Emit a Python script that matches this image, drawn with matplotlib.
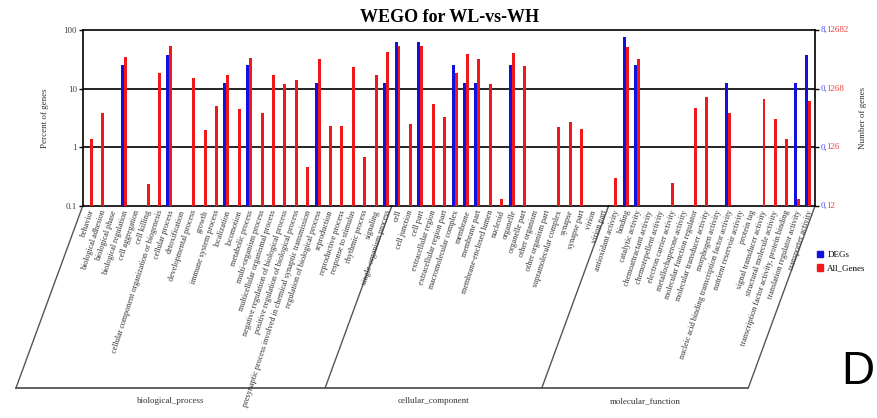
import matplotlib
matplotlib.use('Agg')
import matplotlib.pyplot as plt
from matplotlib.patches import Patch
from matplotlib.ticker import NullLocator
import numpy as np

plt.rcParams['font.family'] = ['Liberation Serif', 'DejaVu Serif']

# GO terms, grouped by ontology
bp_terms = ['behavior', 'biological adhesion', 'biological phase', 'biological regulation',
            'cell aggregation', 'cell killing', 'cellular component organization or biogenesis',
            'cellular process', 'detoxification', 'developmental process', 'growth',
            'immune system process', 'localization', 'locomotion', 'metabolic process',
            'multi-organism process', 'multicellular organismal process',
            'negative regulation of biological process', 'positive regulation of biological process',
            'presynaptic process involved in chemical synaptic transmission',
            'regulation of biological process', 'reproduction', 'reproductive process',
            'response to stimulus', 'rhythmic process', 'signaling', 'single-organism process']
cc_terms = ['cell', 'cell junction', 'cell part', 'extracellular region', 'extracellular region part',
            'macromolecular complex', 'membrane', 'membrane part', 'membrane-enclosed lumen',
            'nucleoid', 'organelle', 'organelle part', 'other organism', 'other organism part',
            'supramolecular complex', 'synapse', 'synapse part', 'virion', 'virion part']
mf_terms = ['antioxidant activity', 'binding', 'catalytic activity', 'chemoattractant activity',
            'chemorepellent activity', 'electron carrier activity', 'metallochaperone activity',
            'molecular function regulator', 'molecular transducer activity', 'morphogen activity',
            'nucleic acid binding transcription factor activity', 'nutrient reservoir activity',
            'protein tag', 'signal transducer activity', 'structural molecule activity',
            'transcription factor activity, protein binding', 'translation regulator activity',
            'transporter activity']
group_names = ['biological_process', 'cellular_component', 'molecular_function']

# percent of genes (0 = no bar)
deg_bp = [0, 0, 0, 25, 0, 0, 0, 37.5, 0, 0, 0, 0, 12.5, 0, 25, 0, 0, 0, 0, 0,
          12.5, 0, 0, 0, 0, 0, 12.5]
all_bp = [1.4, 3.8, 0, 35, 0, 0.24, 18.7, 53, 0, 15, 2.0, 5.0, 16.9, 4.45, 33, 3.8, 16.9,
          11.8, 13.9, 0.47, 32.4, 2.3, 2.3, 23.7, 0.68, 17.1, 42.7]
deg_cc = [62.5, 0, 62.5, 0, 0, 25, 12.5, 12.5, 0, 0, 25, 0, 0, 0, 0, 0, 0, 0, 0]
all_cc = [53, 2.47, 53, 5.5, 3.3, 18.5, 38.5, 32.4, 11.8, 0.13, 40, 24.6, 0, 0, 2.19, 2.74,
          2.08, 0, 0]
deg_mf = [0, 75, 25, 0, 0, 0, 0, 0, 0, 0, 12.5, 0, 0, 0, 0, 0, 12.5, 37.5]
all_mf = [0.3, 52, 32, 0, 0, 0.25, 0, 4.6, 7.2, 0, 3.8, 0, 0, 6.75, 3.0, 1.39, 0.13, 6.24]

# right axis: DEGs count, all genes count
right_ticks = [0.1, 1, 10, 100]
right_deg = ['0,', '0,', '0,', '8,']
right_all = ['12', '126', '1268', '12682']

terms = bp_terms + cc_terms + mf_terms
deg = np.array(deg_bp + deg_cc + deg_mf, dtype=float)
allg = np.array(all_bp + all_cc + all_mf, dtype=float)
x = np.arange(len(terms))

W, H = 877, 418
fig = plt.figure(figsize=(W / 100, H / 100), dpi=100)
ax = fig.add_axes([82.7 / W, 1 - 206 / H, (815 - 82.7) / W, 176 / H])

ax.bar(x - 0.13, np.where(deg > 0, deg, np.nan), width=0.26, color='#1010e0', zorder=3)
ax.bar(x + 0.13, np.where(allg > 0, allg, np.nan), width=0.26, color='#f01818', zorder=3)

ax.set_yscale('log')
ax.set_ylim(0.1, 100)
ax.set_xlim(-0.6, 63.6)
ax.yaxis.set_minor_locator(NullLocator())
ax.set_yticks([0.1, 1, 10, 100])
ax.set_yticklabels(['0.1', '1', '10', '100'])
ax.tick_params(axis='y', labelsize=6.5, labelcolor='#444', length=3, width=1, pad=1)
ax.set_xticks([])
for y in [1, 10]:
    ax.axhline(y, color='black', lw=1.2, zorder=2)
for s in ax.spines.values():
    s.set_linewidth(1.2)

# right axis tick labels (DEGs in blue, all genes in red)
ax.tick_params(axis='y', right=True)
for yv, a, b in zip(right_ticks, right_deg, right_all):
    ax.annotate(a, (1, yv), xycoords=('axes fraction', 'data'), xytext=(4, 0),
                textcoords='offset points', fontsize=6.5, color='#5050f0', va='center', ha='left')
    ax.annotate(b, (1, yv), xycoords=('axes fraction', 'data'), xytext=(8.2, 0),
                textcoords='offset points', fontsize=6.5, color='#f04040', va='center', ha='left')

# term labels
xt = ax.get_xaxis_transform()
for i, t in enumerate(terms):
    ax.text(i + 0.2, -0.025, t, transform=xt, rotation=72, ha='right', va='center',
            rotation_mode='anchor', fontsize=5.9, color='#333')

# ontology brackets
slant = 5.85
y_bot = -1.034
bounds = [-0.6, len(bp_terms) - 0.5, len(bp_terms) + len(cc_terms) - 0.5, 63.6]
lc = '#555'
for b in bounds:
    ax.plot([b, b - slant], [0, y_bot], transform=xt, color=lc, lw=1, clip_on=False)
ax.plot([bounds[0] - slant, bounds[-1] - slant], [y_bot, y_bot], transform=xt,
        color=lc, lw=1.3, clip_on=False)
for k, name in enumerate(group_names):
    cx = (bounds[k] + bounds[k + 1]) / 2 - slant
    ax.text(cx, -1.11, name, transform=xt, ha='center', va='center', fontsize=6.5, color='#333')

fig.text(450 / W, 1 - 17 / H, 'WEGO for WL-vs-WH', ha='center', va='center',
         fontsize=13, fontweight='bold')
fig.text(45 / W, 1 - 118 / H, 'Percent of genes', rotation=90, ha='center', va='center',
         fontsize=6.5, color='#333')
fig.text(863 / W, 1 - 118 / H, 'Number of genes', rotation=90, ha='center', va='center',
         fontsize=6.5, color='#333')

handles = [Patch(color='#1010e0', label='DEGs'), Patch(color='#f01818', label='All_Genes')]
fig.legend(handles=handles, loc='upper left', bbox_to_anchor=(812 / W, 1 - 246 / H),
           frameon=False, fontsize=6.5, handlelength=0.7, handleheight=0.7,
           handletextpad=0.5, labelspacing=0.6, borderpad=0)

fig.text(858 / W, 1 - 372 / H, 'D', ha='center', va='center', fontsize=33,
         family=['Liberation Sans', 'DejaVu Sans'])

fig.savefig('out.png', dpi=100)
